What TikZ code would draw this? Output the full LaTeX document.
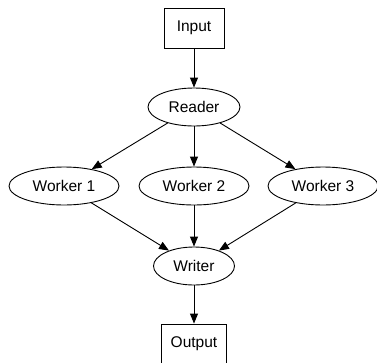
\documentclass[tikz,border=0pt]{standalone}
\usepackage{fontspec}
\setmainfont{Liberation Sans}
\usetikzlibrary{shapes.geometric,arrows.meta}
\begin{document}
\begin{tikzpicture}[x=1pt,y=-1pt,
  every node/.style={font=\fontsize{15.5}{18}\selectfont, inner sep=0pt, draw, line width=0.9pt},
  box/.style={rectangle, minimum height=40pt},
  oval/.style={ellipse, minimum height=38pt},
  edge/.style={line width=0.9pt, -{Triangle[length=10pt,width=8pt]}}]
  \useasboundingbox (0,0) rectangle (377,362);
  \clip (0,0) rectangle (377,362);
  \node[box, minimum width=60pt] (in) at (194,28) {Input};
  \node[oval, minimum width=92pt] (rd) at (194,107) {Reader};
  \node[oval, minimum width=110pt] (w1) at (64,186) {Worker 1};
  \node[oval, minimum width=110pt] (w2) at (194,186) {Worker 2};
  \node[oval, minimum width=110pt] (w3) at (323,186) {Worker 3};
  \node[oval, minimum width=81pt] (wr) at (194,266) {Writer};
  \node[box, minimum width=65pt] (out) at (194,344) {Output};
  \draw[edge] (in) -- (rd);
  \draw[edge] (rd) -- (w1);
  \draw[edge] (rd) -- (w2);
  \draw[edge] (rd) -- (w3);
  \draw[edge] (w1) -- (wr);
  \draw[edge] (w2) -- (wr);
  \draw[edge] (w3) -- (wr);
  \draw[edge] (wr) -- (out);
\end{tikzpicture}
\end{document}
